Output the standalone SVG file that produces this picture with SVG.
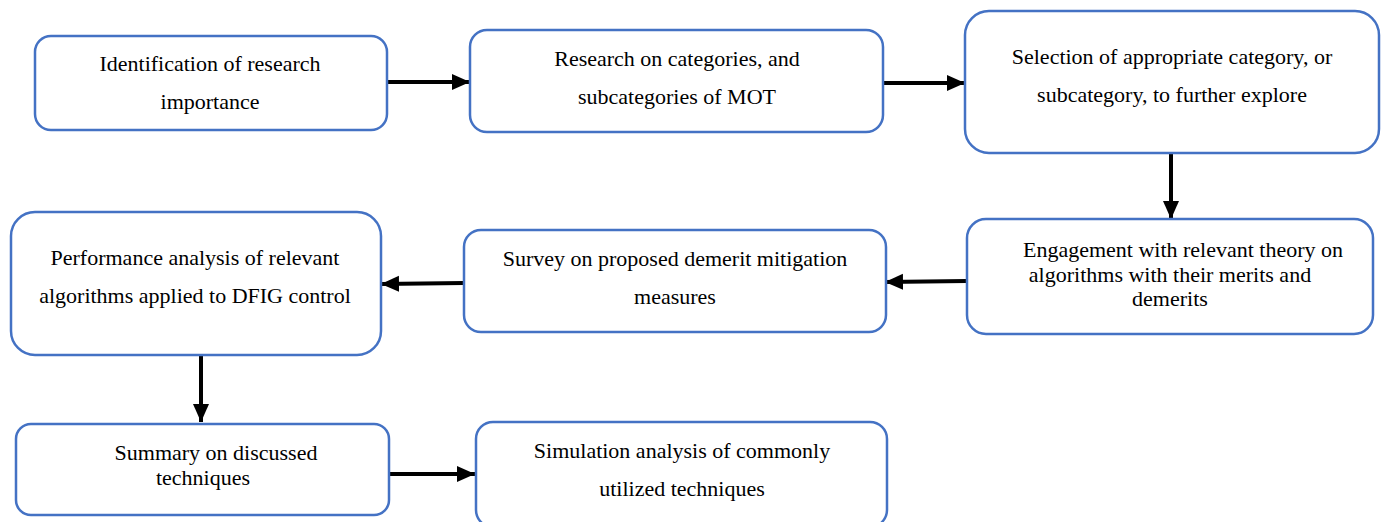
<svg xmlns="http://www.w3.org/2000/svg" width="1383" height="522" viewBox="0 0 1383 522">
  <style>
    .box { fill: #ffffff; stroke: #4472C4; stroke-width: 2.5; }
    .lbl { font-family: "Liberation Serif", "Times New Roman", serif; font-size: 22px; fill: #000000; text-anchor: middle; }
    .link { stroke: #000000; stroke-width: 4; fill: none; marker-end: url(#head); }
  </style>
  <defs>
    <marker id="head" markerUnits="userSpaceOnUse" markerWidth="18" markerHeight="18" viewBox="0 0 18 18" refX="18" refY="9" orient="auto">
      <path d="M0,1 L18,9 L0,17 Z" fill="#000000"/>
    </marker>
  </defs>

  <rect width="1383" height="522" fill="#ffffff"/>

  <!-- connectors -->
  <g id="connectors">
    <line class="link" x1="387" y1="82" x2="470" y2="82"/>
    <line class="link" x1="883" y1="83" x2="965" y2="83"/>
    <line class="link" x1="1171" y1="153" x2="1171" y2="219"/>
    <line class="link" x1="967" y1="281" x2="885" y2="282"/>
    <line class="link" x1="464" y1="283" x2="381" y2="284"/>
    <line class="link" x1="201" y1="355" x2="201" y2="422"/>
    <line class="link" x1="389" y1="474" x2="475" y2="474"/>
  </g>

  <g id="n1">
    <rect class="box" x="35" y="36" width="352" height="94" rx="16"/>
    <text class="lbl" x="210" y="71">Identification of research</text>
    <text class="lbl" x="210" y="109">importance</text>
  </g>

  <g id="n2">
    <rect class="box" x="470" y="30" width="413" height="102" rx="17"/>
    <text class="lbl" x="677" y="66">Research on categories, and</text>
    <text class="lbl" x="677" y="104">subcategories of MOT</text>
  </g>

  <g id="n3">
    <rect class="box" x="965" y="11" width="414" height="142" rx="24"/>
    <text class="lbl" x="1172" y="64">Selection of appropriate category, or</text>
    <text class="lbl" x="1172" y="102">subcategory, to further explore</text>
  </g>

  <g id="n4">
    <rect class="box" x="967" y="219" width="406" height="115" rx="19"/>
    <text class="lbl" x="1183" y="257">Engagement with relevant theory on</text>
    <text class="lbl" x="1170" y="282">algorithms with their merits and</text>
    <text class="lbl" x="1170" y="306">demerits</text>
  </g>

  <g id="n5">
    <rect class="box" x="464" y="230" width="422" height="102" rx="17"/>
    <text class="lbl" x="675" y="266">Survey on proposed demerit mitigation</text>
    <text class="lbl" x="675" y="304">measures</text>
  </g>

  <g id="n6">
    <rect class="box" x="11" y="212" width="370" height="143" rx="24"/>
    <text class="lbl" x="195" y="265">Performance analysis of relevant</text>
    <text class="lbl" x="195" y="303">algorithms applied to DFIG control</text>
  </g>

  <g id="n7">
    <rect class="box" x="16" y="424" width="373" height="91" rx="15"/>
    <text class="lbl" x="216" y="460">Summary on discussed</text>
    <text class="lbl" x="203" y="485">techniques</text>
  </g>

  <g id="n8">
    <rect class="box" x="476" y="422" width="411" height="105" rx="17"/>
    <text class="lbl" x="682" y="458">Simulation analysis of commonly</text>
    <text class="lbl" x="682" y="496">utilized techniques</text>
  </g>
</svg>
